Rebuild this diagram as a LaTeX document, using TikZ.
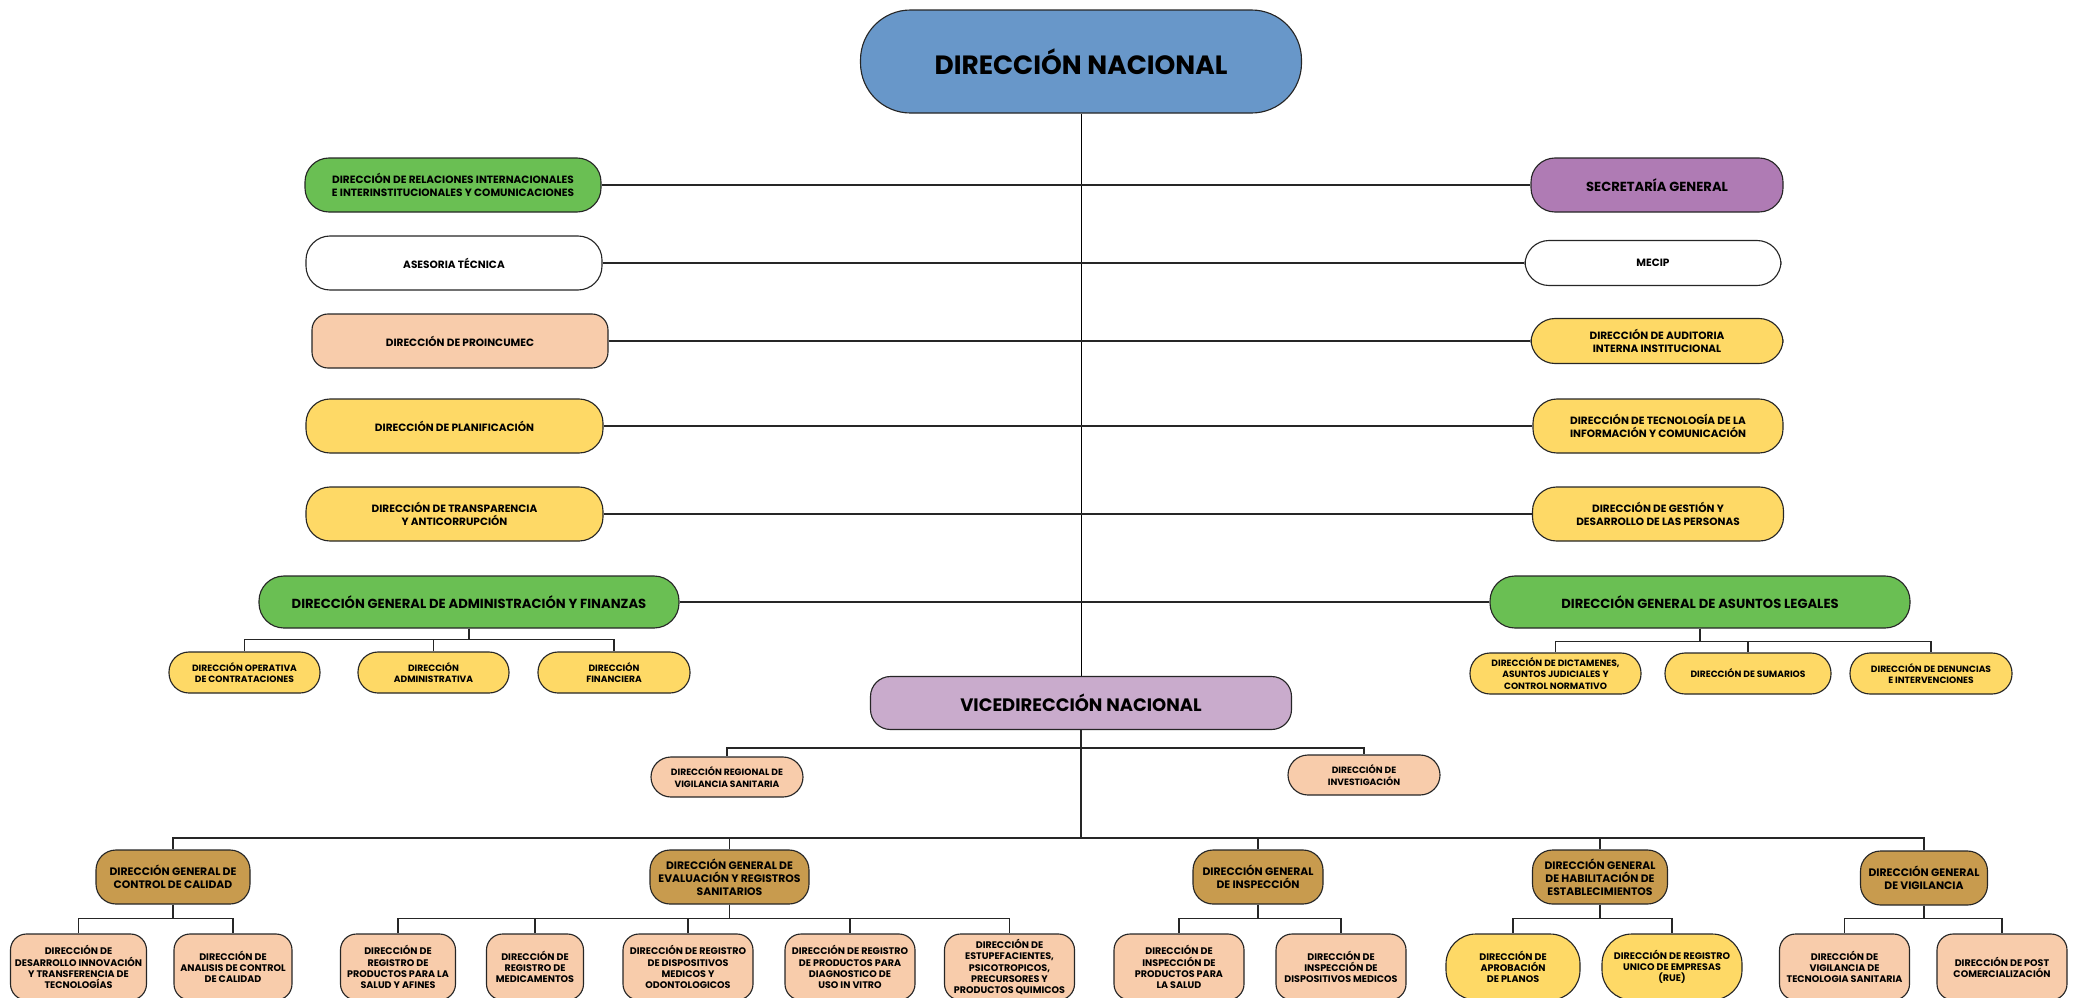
\documentclass[tikz,border=0pt]{standalone}
\usepackage{fontspec}
\setmainfont{Poppins}
\usepackage{tikz}

\definecolor{nacblue}{HTML}{6897C9}
\definecolor{orggreen}{HTML}{6ABF53}
\definecolor{secpurple}{HTML}{AF7BB4}
\definecolor{vicelilac}{HTML}{C9ABCC}
\definecolor{unitpeach}{HTML}{F8CCAB}
\definecolor{unityellow}{HTML}{FED966}
\definecolor{genbrown}{HTML}{C89B4E}

\begin{document}
\begin{tikzpicture}[x=0.5mm, y=-0.5mm]
    \tikzstyle{org box}=[
        draw = black!85,
        line width = 1.6pt,
        align = center,
        inner sep = 0pt,
        text = black
    ]
    \tikzstyle{top box}=[org box, fill = nacblue, minimum width = 220.5mm,
        minimum height = 51.5mm, rounded corners = 25mm,
        font = \bfseries\fontsize{37.6}{44}\selectfont]
    \tikzstyle{vice box}=[org box, fill = vicelilac, minimum width = 210.5mm,
        minimum height = 26.5mm, rounded corners = 10mm,
        font = \bfseries\fontsize{25.6}{30}\selectfont]
    \tikzstyle{wide box}=[org box, minimum width = 210mm, minimum height = 26mm,
        rounded corners = 12.5mm, font = \bfseries\fontsize{18.7}{23}\selectfont]
    \tikzstyle{side box}=[org box, minimum height = 27mm, rounded corners = 12mm,
        font = \bfseries\fontsize{15}{18.5}\selectfont]
    \tikzstyle{sub box}=[org box, fill = unityellow, minimum height = 20.5mm,
        rounded corners = 10mm, font = \bfseries\fontsize{13}{16.5}\selectfont]
    \tikzstyle{gen box}=[org box, fill = genbrown, minimum height = 27mm,
        rounded corners = 10mm, font = \bfseries\fontsize{15.4}{18.5}\selectfont]
    \tikzstyle{leaf box}=[org box, fill = unitpeach, minimum height = 33mm,
        rounded corners = 8mm, font = \bfseries\fontsize{13.6}{16}\selectfont]
    \tikzstyle{row line}=[draw = black!85, line width = 2.4pt]
    \tikzstyle{tree line}=[draw = black!85, line width = 2pt]

    \useasboundingbox (0,0) rectangle (2080,997);

    % top of the chart
    \node[top box] (dn) at (1081, 61.5) {DIRECCIÓN NACIONAL};

    % left column
    \node[side box, fill = orggreen, minimum width = 148mm] (rel) at (453, 185)
        {DIRECCIÓN DE RELACIONES INTERNACIONALES\\E INTERINSTITUCIONALES Y COMUNICACIONES};
    \node[side box, fill = white, minimum width = 148mm] (ase) at (454, 263) {ASESORIA TÉCNICA};
    \node[side box, fill = unitpeach, minimum width = 148mm, rounded corners = 8mm] (pro) at (460, 341) {DIRECCIÓN DE PROINCUMEC};
    \node[side box, fill = unityellow, minimum width = 148.5mm] (pla) at (454.5, 426) {DIRECCIÓN DE PLANIFICACIÓN};
    \node[side box, fill = unityellow, minimum width = 148.5mm] (tra) at (454.5, 514)
        {DIRECCIÓN DE TRANSPARENCIA\\Y ANTICORRUPCIÓN};
    \node[wide box, fill = orggreen] (adm) at (469, 602) {DIRECCIÓN GENERAL DE ADMINISTRACIÓN Y FINANZAS};

    % right column
    \node[side box, fill = secpurple, minimum width = 126mm,
        font = \bfseries\fontsize{18.7}{23}\selectfont] (sec) at (1657, 185) {SECRETARÍA GENERAL};
    \node[side box, fill = white, minimum width = 128mm, minimum height = 22.5mm] (mec) at (1653, 263) {MECIP};
    \node[side box, fill = unityellow, minimum width = 126mm, minimum height = 22.5mm] (aud) at (1657, 341)
        {DIRECCIÓN DE AUDITORIA\\INTERNA INSTITUCIONAL};
    \node[side box, fill = unityellow, minimum width = 125mm] (tic) at (1658, 426)
        {DIRECCIÓN DE TECNOLOGÍA DE LA\\INFORMACIÓN Y COMUNICACIÓN};
    \node[side box, fill = unityellow, minimum width = 125.5mm] (ges) at (1658, 514)
        {DIRECCIÓN DE GESTIÓN Y\\DESARROLLO DE LAS PERSONAS};
    \node[wide box, fill = orggreen] (leg) at (1700, 602) {DIRECCIÓN GENERAL DE ASUNTOS LEGALES};

    % under administracion y finanzas
    \node[sub box, minimum width = 75.5mm] (ope) at (244.5, 672.5) {DIRECCIÓN OPERATIVA\\DE CONTRATACIONES};
    \node[sub box, minimum width = 75.5mm] (dad) at (433.5, 672.5) {DIRECCIÓN\\ADMINISTRATIVA};
    \node[sub box, minimum width = 76mm] (fin) at (614, 672.5) {DIRECCIÓN\\FINANCIERA};

    % under asuntos legales
    \node[sub box, minimum width = 85.5mm] (dic) at (1555.5, 673.5)
        {DIRECCIÓN DE DICTAMENES,\\ASUNTOS JUDICIALES Y\\CONTROL NORMATIVO};
    \node[sub box, minimum width = 83mm] (sum) at (1748, 673.5) {DIRECCIÓN DE SUMARIOS};
    \node[sub box, minimum width = 81mm] (den) at (1931, 673.5) {DIRECCIÓN DE DENUNCIAS\\E INTERVENCIONES};

    % vicedireccion
    \node[vice box] (vic) at (1081, 703) {VICEDIRECCIÓN NACIONAL};
    \node[sub box, fill = unitpeach, minimum width = 76mm, minimum height = 20mm] (reg) at (727, 777)
        {DIRECCIÓN REGIONAL DE\\VIGILANCIA SANITARIA};
    \node[sub box, fill = unitpeach, minimum width = 76mm, minimum height = 20mm] (inv) at (1364, 775)
        {DIRECCIÓN DE\\INVESTIGACIÓN};

    % direcciones generales
    \node[gen box, minimum width = 77mm] (cal) at (173, 877) {DIRECCIÓN GENERAL DE\\CONTROL DE CALIDAD};
    \node[gen box, minimum width = 79.5mm] (eva) at (729.5, 877)
        {DIRECCIÓN GENERAL DE\\EVALUACIÓN Y REGISTROS\\SANITARIOS};
    \node[gen box, minimum width = 65mm] (ins) at (1258, 877) {DIRECCIÓN GENERAL\\DE INSPECCIÓN};
    \node[gen box, minimum width = 67.5mm] (hab) at (1600, 877)
        {DIRECCIÓN GENERAL\\DE HABILITACIÓN DE\\ESTABLECIMIENTOS};
    \node[gen box, minimum width = 63.5mm] (vig) at (1924, 878) {DIRECCIÓN GENERAL\\DE VIGILANCIA};

    % bottom row
    \node[leaf box, minimum width = 68mm] (des) at (78.5, 967)
        {DIRECCIÓN DE\\DESARROLLO INNOVACIÓN\\Y TRANSFERENCIA DE\\TECNOLOGÍAS};
    \node[leaf box, minimum width = 59mm] (ana) at (233, 967)
        {DIRECCIÓN DE\\ANALISIS DE CONTROL\\DE CALIDAD};
    \node[leaf box, minimum width = 57.5mm] (rps) at (398, 967)
        {DIRECCIÓN DE\\REGISTRO DE\\PRODUCTOS PARA LA\\SALUD Y AFINES};
    \node[leaf box, minimum width = 48.5mm] (med) at (535, 967)
        {DIRECCIÓN DE\\REGISTRO DE\\MEDICAMENTOS};
    \node[leaf box, minimum width = 65mm] (rdm) at (688, 967)
        {DIRECCIÓN DE REGISTRO\\DE DISPOSITIVOS\\MEDICOS Y\\ODONTOLOGICOS};
    \node[leaf box, minimum width = 65mm] (ivd) at (850, 967)
        {DIRECCIÓN DE REGISTRO\\DE PRODUCTOS PARA\\DIAGNOSTICO DE\\USO IN VITRO};
    \node[leaf box, minimum width = 65mm] (est) at (1009.5, 967)
        {DIRECCIÓN DE\\ESTUPEFACIENTES,\\PSICOTROPICOS,\\PRECURSORES Y\\PRODUCTOS QUIMICOS};
    \node[leaf box, minimum width = 65mm] (ips) at (1179, 967)
        {DIRECCIÓN DE\\INSPECCIÓN DE\\PRODUCTOS PARA\\LA SALUD};
    \node[leaf box, minimum width = 65mm] (idm) at (1341, 967)
        {DIRECCIÓN DE\\INSPECCIÓN DE\\DISPOSITIVOS MEDICOS};
    \node[leaf box, fill = unityellow, minimum width = 67mm, rounded corners = 15mm] (apr) at (1513, 967)
        {DIRECCIÓN DE\\APROBACIÓN\\DE PLANOS};
    \node[leaf box, fill = unityellow, minimum width = 70mm, rounded corners = 15mm] (rue) at (1672, 967)
        {DIRECCIÓN DE REGISTRO\\UNICO DE EMPRESAS\\(RUE)};
    \node[leaf box, minimum width = 65mm] (vts) at (1844.5, 967)
        {DIRECCIÓN DE\\VIGILANCIA DE\\TECNOLOGIA SANITARIA};
    \node[leaf box, minimum width = 65mm] (pos) at (2002, 967)
        {DIRECCIÓN DE POST\\COMERCIALIZACIÓN};

    % connectors
    \draw[line width = 1.4pt] (dn.south) -- (vic.north);
    \draw[row line] (rel.east) -- (sec.west);
    \draw[row line] (ase.east) -- (mec.west);
    \draw[row line] (pro.east) -- (aud.west);
    \draw[row line] (pla.east) -- (tic.west);
    \draw[row line] (tra.east) -- (ges.west);
    \draw[row line] (adm.east) -- (leg.west);

    \draw[tree line] (adm.south) -- ++(0,11) -| (ope.north);
    \draw[tree line] (adm.south) -- ++(0,11) -| (dad.north);
    \draw[tree line] (adm.south) -- ++(0,11) -| (fin.north);
    \draw[tree line] (leg.south) -- ++(0,13) -| (dic.north);
    \draw[tree line] (leg.south) -- ++(0,13) -| (sum.north);
    \draw[tree line] (leg.south) -- ++(0,13) -| (den.north);

    \draw[tree line] (vic.south) -- ++(0,18) -| (reg.north);
    \draw[tree line] (vic.south) -- ++(0,18) -| (inv.north);
    \draw[tree line] (vic.south) -- ++(0,108) -| (cal.north);
    \draw[tree line] (vic.south) -- ++(0,108) -| (eva.north);
    \draw[tree line] (vic.south) -- ++(0,108) -| (ins.north);
    \draw[tree line] (vic.south) -- ++(0,108) -| (hab.north);
    \draw[tree line] (vic.south) -- ++(0,108) -| (vig.north);

    \draw[tree line] (cal.south) -- ++(0,14) -| (des.north);
    \draw[tree line] (cal.south) -- ++(0,14) -| (ana.north);
    \draw[tree line] (eva.south) -- ++(0,14) -| (rps.north);
    \draw[tree line] (eva.south) -- ++(0,14) -| (med.north);
    \draw[tree line] (eva.south) -- ++(0,14) -| (rdm.north);
    \draw[tree line] (eva.south) -- ++(0,14) -| (ivd.north);
    \draw[tree line] (eva.south) -- ++(0,14) -| (est.north);
    \draw[tree line] (ins.south) -- ++(0,14) -| (ips.north);
    \draw[tree line] (ins.south) -- ++(0,14) -| (idm.north);
    \draw[tree line] (hab.south) -- ++(0,14) -| (apr.north);
    \draw[tree line] (hab.south) -- ++(0,14) -| (rue.north);
    \draw[tree line] (vig.south) -- ++(0,13) -| (vts.north);
    \draw[tree line] (vig.south) -- ++(0,13) -| (pos.north);

\end{tikzpicture}
\end{document}
